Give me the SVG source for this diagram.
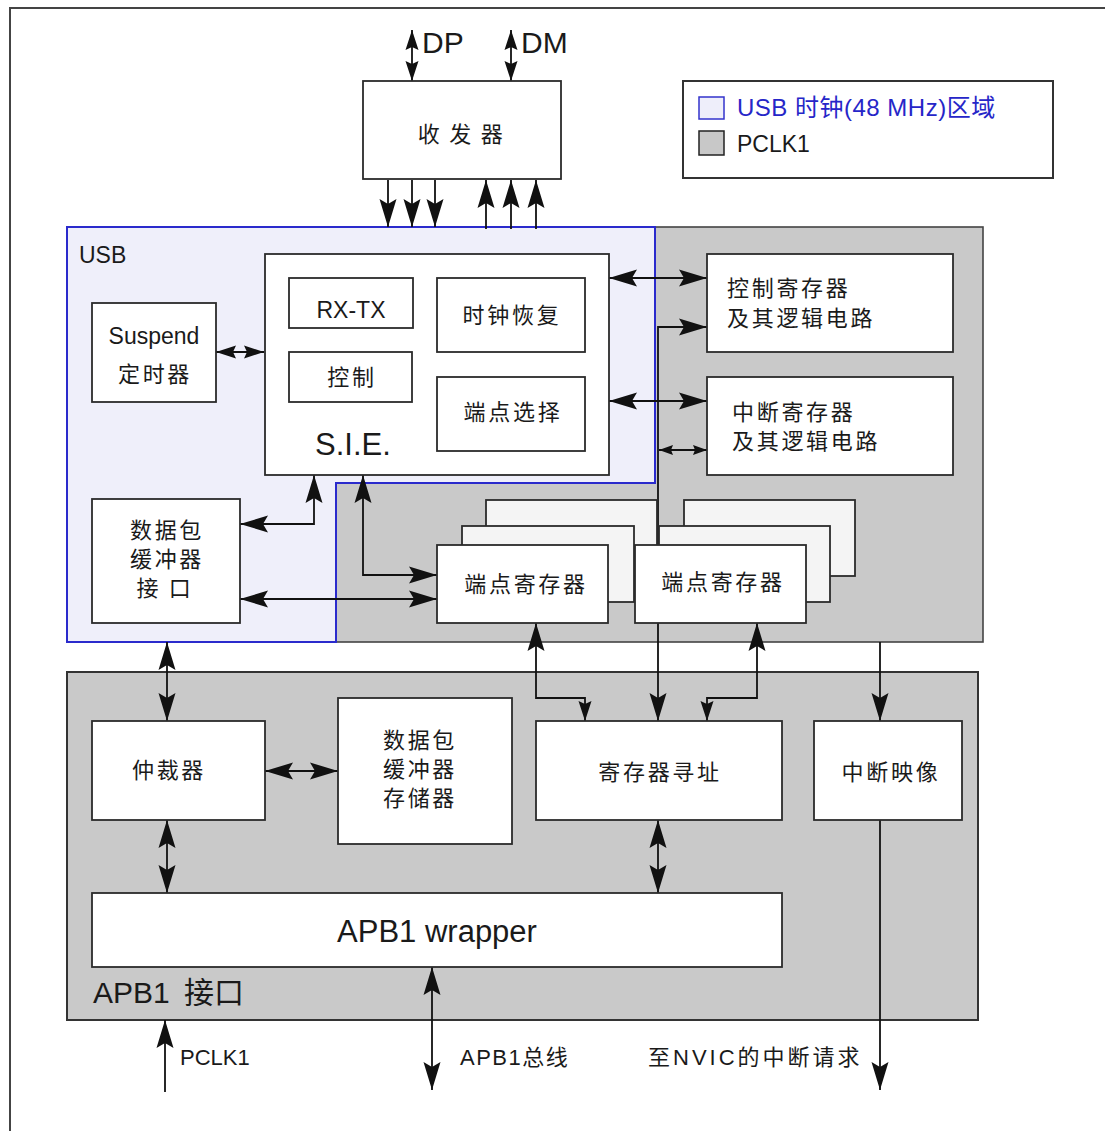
<svg xmlns="http://www.w3.org/2000/svg" width="1105" height="1131" viewBox="0 0 1105 1131">
<style>
.box{fill:#fff;stroke:#2b2b2b;stroke-width:1.8}
.back{fill:#f4f4f4;stroke:#2b2b2b;stroke-width:1.8}
.c{fill:none;stroke:#111;stroke-width:1.8}
.t{font-family:"Liberation Sans","Noto Sans CJK SC",sans-serif;fill:#1a1a1a}
.k{font-family:"Noto Sans CJK SC","Liberation Sans",sans-serif;font-size:22px;letter-spacing:2.7px;fill:#1a1a1a}
.mid{text-anchor:middle}
</style>
<defs>
<marker id="b" viewBox="-30 -10 32 20" refX="0" refY="0" markerWidth="32" markerHeight="20" markerUnits="userSpaceOnUse" orient="auto-start-reverse"><path d="M0,0 L-28,-8.5 L-23,0 L-28,8.5 Z" fill="#111"/></marker>
<marker id="m" viewBox="-30 -10 32 20" refX="0" refY="0" markerWidth="32" markerHeight="20" markerUnits="userSpaceOnUse" orient="auto-start-reverse"><path d="M0,0 L-20,-6.5 L-17,0 L-20,6.5 Z" fill="#111"/></marker>
<marker id="s" viewBox="-30 -10 32 20" refX="0" refY="0" markerWidth="32" markerHeight="20" markerUnits="userSpaceOnUse" orient="auto-start-reverse"><path d="M0,0 L-14,-5 L-12,0 L-14,5 Z" fill="#111"/></marker>
</defs>
<rect width="1105" height="1131" fill="#fff"/>
<path d="M10,1131 V8 H1105" fill="none" stroke="#444" stroke-width="2"/>

<g id="regions">
<rect x="67" y="227" width="916" height="415" fill="#c9c9c9" stroke="#444" stroke-width="1.6"/>
<path d="M67,227 H655 V483 H336 V642 H67 Z" fill="#efeffa" stroke="#2a2acc" stroke-width="2"/>
<text class="t" x="79" y="263" font-size="23">USB</text>
<rect x="67" y="672" width="911" height="348" fill="#c9c9c9" stroke="#333" stroke-width="2"/>
<text class="t" x="93" y="1003" font-size="30" style="word-spacing:6px">APB1 接口</text>
</g>

<g id="legend">
<rect x="683" y="81" width="370" height="97" fill="#fff" stroke="#333" stroke-width="2"/>
<rect x="699" y="97" width="25" height="22" fill="#eeeefa" stroke="#3333cc" stroke-width="1.5"/>
<text class="t" x="737" y="116" font-size="24" style="fill:#2626c8;letter-spacing:0.5px">USB 时钟(48 MHz)区域</text>
<rect x="699" y="131" width="25" height="24" fill="#c8c8c8" stroke="#222" stroke-width="1.5"/>
<text class="t" x="737" y="152" font-size="23">PCLK1</text>
</g>

<g id="connectors">
<path class="c" d="M412,30 V81" marker-start="url(#m)" marker-end="url(#m)"/>
<path class="c" d="M511,30 V81" marker-start="url(#m)" marker-end="url(#m)"/>
<path class="c" d="M388,180 V227" marker-end="url(#b)"/>
<path class="c" d="M412,180 V227" marker-end="url(#b)"/>
<path class="c" d="M435,180 V227" marker-end="url(#b)"/>
<path class="c" d="M486,229 V180" marker-end="url(#b)"/>
<path class="c" d="M511,229 V180" marker-end="url(#b)"/>
<path class="c" d="M536,229 V180" marker-end="url(#b)"/>
<path class="c" d="M216,352 H264" marker-start="url(#m)" marker-end="url(#m)"/>
<path class="c" d="M609,278 H707" marker-start="url(#b)" marker-end="url(#b)"/>
<path class="c" d="M609,401 H707" marker-start="url(#b)" marker-end="url(#b)"/>
<path class="c" d="M707,327 H658 V721" marker-start="url(#b)" marker-end="url(#b)"/>
<path class="c" d="M659,450 H707" marker-start="url(#s)" marker-end="url(#s)"/>
<path class="c" d="M314,475 V524 H240" marker-start="url(#b)" marker-end="url(#b)"/>
<path class="c" d="M363,475 V575 H437" marker-start="url(#b)" marker-end="url(#b)"/>
<path class="c" d="M240,599 H437" marker-start="url(#b)" marker-end="url(#b)"/>
<path class="c" d="M167,642 V721" marker-start="url(#b)" marker-end="url(#b)"/>
<path class="c" d="M265,771 H338" marker-start="url(#b)" marker-end="url(#b)"/>
<path class="c" d="M536,623 V698 H585 V721" marker-start="url(#b)" marker-end="url(#m)"/>
<path class="c" d="M757,623 V698 H707 V721" marker-start="url(#b)" marker-end="url(#m)"/>
<path class="c" d="M880,642 V721" marker-end="url(#b)"/>
<path class="c" d="M880,820 V1090" marker-end="url(#b)"/>
<path class="c" d="M167,820 V893" marker-start="url(#b)" marker-end="url(#b)"/>
<path class="c" d="M658,820 V893" marker-start="url(#b)" marker-end="url(#b)"/>
<path class="c" d="M432,967 V1090" marker-start="url(#b)" marker-end="url(#b)"/>
<path class="c" d="M165,1092 V1020" marker-end="url(#b)"/>
</g>

<g id="transceiver">
<rect class="box" x="363" y="81" width="198" height="98"/>
<text class="k mid" x="465" y="142" style="letter-spacing:9.5px">收发器</text>
</g>
<text class="t" x="422" y="53" font-size="30">DP</text>
<text class="t" x="521" y="53" font-size="30">DM</text>

<g id="suspend">
<rect class="box" x="92" y="303" width="124" height="99"/>
<text class="t mid" x="154" y="344" font-size="23">Suspend</text>
<text class="k mid" x="155" y="382">定时器</text>
</g>

<g id="sie">
<rect class="box" x="265" y="254" width="344" height="221"/>
<text class="t" x="315" y="455" font-size="31">S.I.E.</text>
</g>
<g id="rxtx">
<rect class="box" x="289" y="278" width="124" height="50"/>
<text class="t mid" x="351" y="318" font-size="23">RX-TX</text>
</g>
<g id="ctrl">
<rect class="box" x="289" y="352" width="123" height="50"/>
<text class="k mid" x="352" y="385">控制</text>
</g>
<g id="clkrec">
<rect class="box" x="437" y="278" width="148" height="74"/>
<text class="k mid" x="512" y="323">时钟恢复</text>
</g>
<g id="epsel">
<rect class="box" x="437" y="377" width="148" height="74"/>
<text class="k mid" x="513" y="420">端点选择</text>
</g>

<g id="ctrlreg">
<rect class="box" x="707" y="254" width="246" height="98"/>
<text class="k" x="727" y="296">控制寄存器</text>
<text class="k" x="727" y="326">及其逻辑电路</text>
</g>
<g id="intreg">
<rect class="box" x="707" y="377" width="246" height="98"/>
<text class="k" x="732" y="420">中断寄存器</text>
<text class="k" x="732" y="449">及其逻辑电路</text>
</g>

<g id="pbif">
<rect class="box" x="92" y="499" width="148" height="124"/>
<text class="k mid" x="167" y="538">数据包</text>
<text class="k mid" x="167" y="567">缓冲器</text>
<text class="k mid" x="165" y="596">接 口</text>
</g>

<g id="epreg1">
<rect class="back" x="486" y="500" width="171" height="76"/>
<rect class="back" x="462" y="526" width="172" height="76"/>
<rect class="box" x="437" y="545" width="171" height="78"/>
<text class="k mid" x="526" y="592">端点寄存器</text>
</g>
<g id="epreg2">
<rect class="back" x="684" y="500" width="171" height="76"/>
<rect class="back" x="659" y="526" width="171" height="76"/>
<rect class="box" x="635" y="545" width="171" height="78"/>
<text class="k mid" x="723" y="590">端点寄存器</text>
</g>

<g id="arbiter">
<rect class="box" x="92" y="721" width="173" height="99"/>
<text class="k mid" x="169" y="778">仲裁器</text>
</g>
<g id="pbmem">
<rect class="box" x="338" y="698" width="174" height="146"/>
<text class="k mid" x="420" y="748">数据包</text>
<text class="k mid" x="420" y="777">缓冲器</text>
<text class="k mid" x="420" y="806">存储器</text>
</g>
<g id="regaddr">
<rect class="box" x="536" y="721" width="246" height="99"/>
<text class="k mid" x="660" y="780">寄存器寻址</text>
</g>
<g id="intmap">
<rect class="box" x="814" y="721" width="148" height="99"/>
<text class="k mid" x="891" y="780">中断映像</text>
</g>
<g id="wrapper">
<rect class="box" x="92" y="893" width="690" height="74"/>
<text class="t mid" x="437" y="942" font-size="31">APB1 wrapper</text>
</g>

<g id="labels">
<text class="t" x="180" y="1065" font-size="22">PCLK1</text>
<text class="t" x="460" y="1065" font-size="22" style="letter-spacing:1.5px">APB1总线</text>
<text class="t" x="648" y="1065" font-size="22" style="letter-spacing:3px">至NVIC的中断请求</text>
</g>
</svg>
